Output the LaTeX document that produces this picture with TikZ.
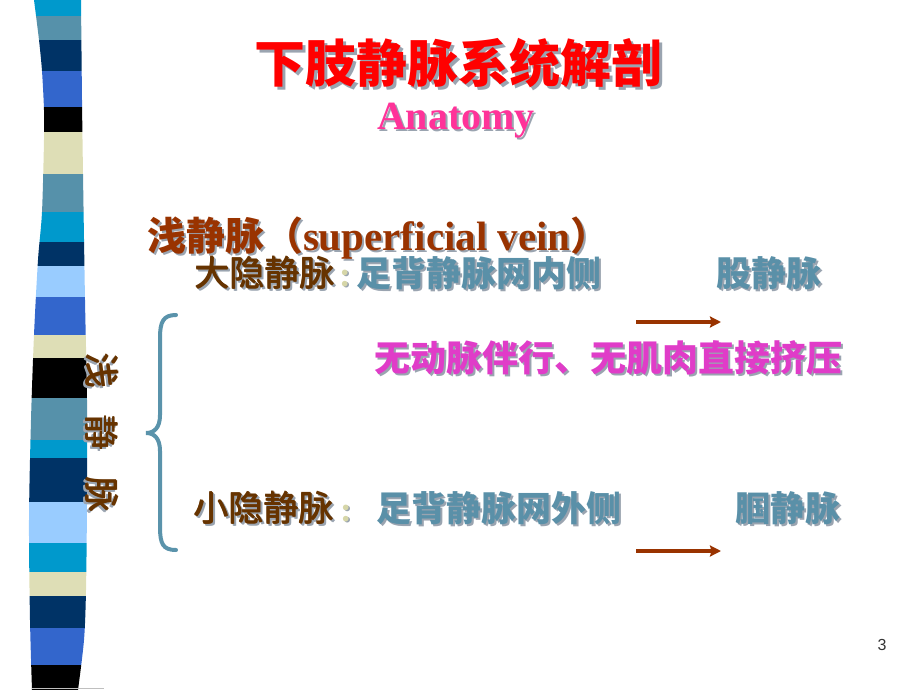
\documentclass[tikz,border=0pt]{standalone}
\usepackage{fontspec}
\newfontfamily\cjk{Noto Sans CJK SC}
\newfontfamily\tms{Liberation Serif}
\newfontfamily\arl{Liberation Sans}
\usetikzlibrary{arrows.meta}
\definecolor{cyanS}{HTML}{0099CC}
\definecolor{tealS}{HTML}{5691AA}
\definecolor{navyS}{HTML}{003366}
\definecolor{royalS}{HTML}{3366CC}
\definecolor{beigeS}{HTML}{DEDEB6}
\definecolor{lightS}{HTML}{99CCFF}
\definecolor{titlec}{HTML}{FF0000}
\definecolor{anatc}{HTML}{FF3399}
\definecolor{supc}{HTML}{993300}
\definecolor{brownc}{HTML}{663300}
\definecolor{tealc}{HTML}{5A90A8}
\definecolor{magc}{HTML}{E03CC8}
\definecolor{colonc}{HTML}{D6D6A8}
\definecolor{arrowc}{HTML}{993300}
\definecolor{bracec}{HTML}{5A93AB}
\definecolor{shadowc}{HTML}{9AA4B0}
\newcommand\shd[3][2pt]{\rlap{\kern#1\raisebox{-#1}{\textcolor{shadowc}{#3}}}\textcolor{#2}{#3}}
\newcommand\mwt[1]{\rlap{\kern1.3pt#1}\rlap{\kern0.65pt\raisebox{0.5pt}{#1}}#1}
\begin{document}
\begin{tikzpicture}[x=1pt,y=-1pt,
  txt/.style={inner sep=0pt,outer sep=0pt},
  arr/.style={draw=arrowc,line width=3.4pt,-{Stealth[length=11pt,width=11pt,inset=1.5pt]}}]
\useasboundingbox (0,0) rectangle (920,690);
% left stripe
\begin{scope}
\clip plot[smooth] coordinates {(34,0) (39,40) (42,71) (44,110) (44,140) (42,212) (38,260) (34,335) (31,420) (29,520) (30,620) (32,690)}
  -- plot[smooth] coordinates {(78,690) (84,640) (86,590) (87,500) (87,400) (85,300) (83,174) (82,100) (81,0)} -- cycle;
\fill[cyanS] (0,0) rectangle (120,16);
\fill[tealS] (0,16) rectangle (120,40);
\fill[navyS] (0,40) rectangle (120,71);
\fill[royalS] (0,71) rectangle (120,107);
\fill[black] (0,107) rectangle (120,132);
\fill[beigeS] (0,132) rectangle (120,174);
\fill[tealS] (0,174) rectangle (120,212);
\fill[cyanS] (0,212) rectangle (120,242);
\fill[navyS] (0,242) rectangle (120,266);
\fill[lightS] (0,266) rectangle (120,297);
\fill[royalS] (0,297) rectangle (120,335);
\fill[beigeS] (0,335) rectangle (120,358);
\fill[black] (0,358) rectangle (120,398);
\fill[tealS] (0,398) rectangle (120,440);
\fill[cyanS] (0,440) rectangle (120,458);
\fill[navyS] (0,458) rectangle (120,502);
\fill[lightS] (0,502) rectangle (120,543);
\fill[cyanS] (0,543) rectangle (120,572);
\fill[beigeS] (0,572) rectangle (120,596);
\fill[navyS] (0,596) rectangle (120,628);
\fill[royalS] (0,628) rectangle (120,665);
\fill[black] (0,665) rectangle (120,690);
\end{scope}
\draw[gray!50,line width=1pt] (32,688.5) -- (104,688.5);
% titles
\node[txt,anchor=base] (title) at (458,83) {\cjk\bfseries\fontsize{51}{51}\selectfont\shd[3pt]{titlec}{下肢静脉系统解剖}};
\node[txt,anchor=base] (anat) at (456,129) {\tms\bfseries\fontsize{40}{40}\selectfont\shd{anatc}{Anatomy}};
\node[txt,anchor=base west] (sup) at (147,250) {\fontsize{39}{39}\selectfont\shd{supc}{{\cjk\bfseries 浅静脉（}{\tms\bfseries\fontsize{41}{41}\selectfont superficial vein}{\cjk\bfseries ）}}};
% great saphenous
\node[txt,anchor=base west] (gsv) at (194,286) {\cjk\fontsize{35}{35}\selectfont\shd{brownc}{\mwt{大隐静脉}}};
\node[txt,anchor=base] (gsvc) at (345,286) {\tms\bfseries\fontsize{35}{35}\selectfont\shd[1.5pt]{colonc}{:}};
\node[txt,anchor=base west] (gsvfrom) at (356,286) {\cjk\bfseries\fontsize{35}{35}\selectfont\shd{tealc}{足背静脉网内侧}};
\node[txt,anchor=base west] (gsvto) at (716,286) {\cjk\bfseries\fontsize{35}{35}\selectfont\shd{tealc}{股静脉}};
\coordinate (a1s) at (636,322);
\coordinate (a1e) at (721,322);
\draw[arr] (a1s) -- (a1e);
\node[txt,anchor=base west] (note) at (374,371) {\cjk\bfseries\fontsize{36}{36}\selectfont\shd{magc}{无动脉伴行、无肌肉直接挤压}};
% small saphenous
\node[txt,anchor=base west] (ssv) at (193,521) {\cjk\fontsize{35}{35}\selectfont\shd{brownc}{\mwt{小隐静脉}}};
\node[txt,anchor=base] (ssvc) at (346,521) {\tms\bfseries\fontsize{35}{35}\selectfont\shd[1.5pt]{colonc}{:}};
\node[txt,anchor=base west] (ssvfrom) at (376,521) {\cjk\bfseries\fontsize{35}{35}\selectfont\shd{tealc}{足背静脉网外侧}};
\node[txt,anchor=base west] (ssvto) at (735,521) {\cjk\bfseries\fontsize{35}{35}\selectfont\shd{tealc}{腘静脉}};
\coordinate (a2s) at (636,551);
\coordinate (a2e) at (721,551);
\draw[arr] (a2s) -- (a2e);
% brace
\draw[bracec,line width=4pt,line cap=round] (176,315) .. controls (163,315) and (160,322) .. (160,338) -- (160,415) .. controls (160,428) and (154,433) .. (146,433) .. controls (154,433) and (160,438) .. (160,451) -- (160,527) .. controls (160,544) and (163,550) .. (176,550);
% vertical label
\node[txt,rotate=-90] (v1) at (101,370) {\cjk\fontsize{35}{35}\selectfont\shd{brownc}{\mwt{浅}}};
\node[txt,rotate=-90] (v2) at (101,432) {\cjk\fontsize{35}{35}\selectfont\shd{brownc}{\mwt{静}}};
\node[txt,rotate=-90] (v3) at (101,494) {\cjk\fontsize{35}{35}\selectfont\shd{brownc}{\mwt{脉}}};
% page number
\node[txt] (page) at (882,645) {\arl\fontsize{16}{16}\selectfont\textcolor{black!80}{3}};
\end{tikzpicture}
\end{document}
